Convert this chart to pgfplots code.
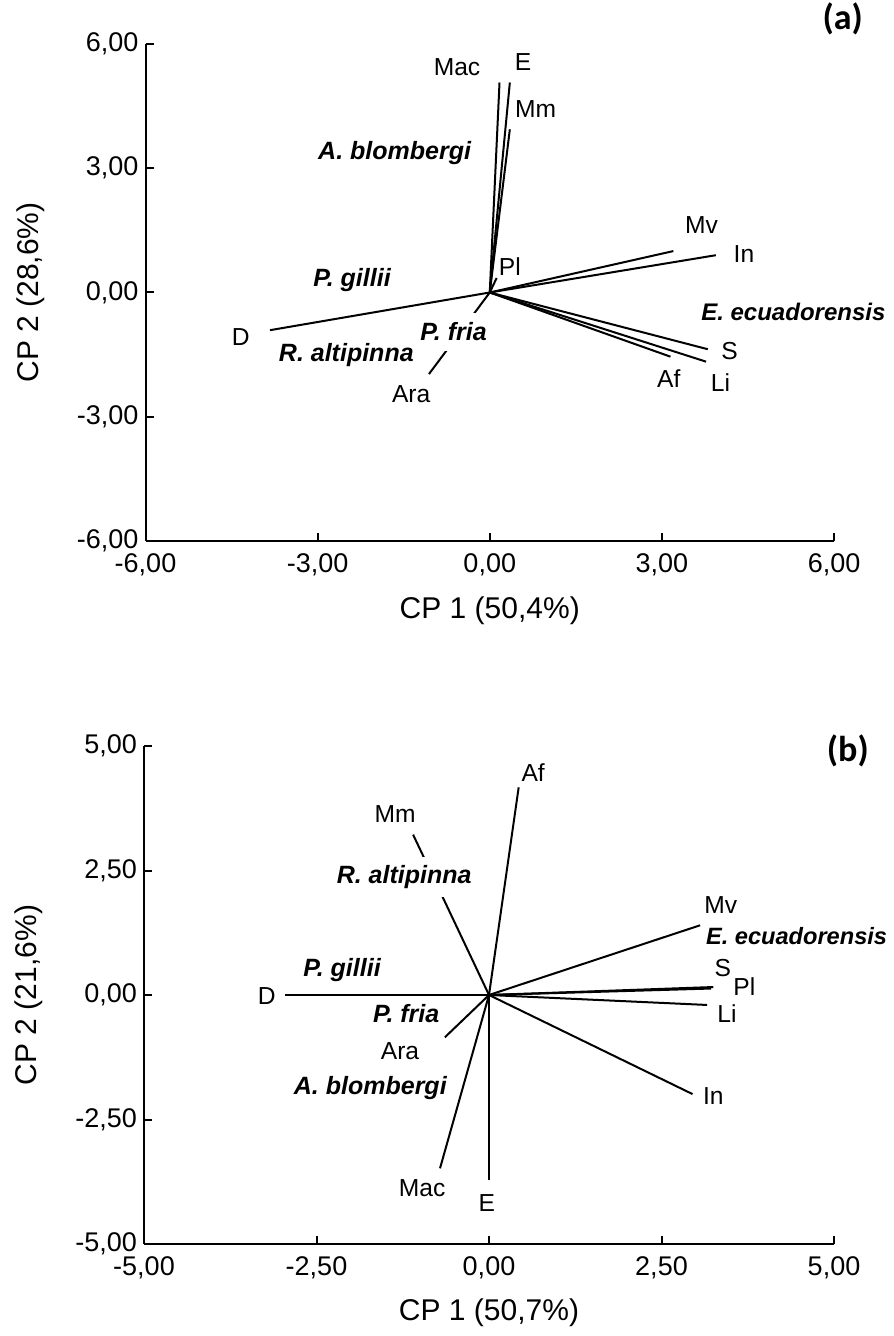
\documentclass[border=0pt]{standalone}
\usepackage{fontspec}
\setmainfont{Liberation Sans}
\newfontfamily\calibri{Carlito}
\usepackage{pgfplots}
\pgfplotsset{compat=1.18}
\tikzset{
  vec/.style={black, line width=1pt, no marks},
  lab/.style={font=\fontsize{12.3}{14}\selectfont, inner sep=0pt},
  sp/.style={font=\fontsize{12.5}{14}\selectfont\bfseries\itshape, inner sep=0pt},
}
\pgfplotsset{
  pcastyle/.style={
    scale only axis, clip=false,
    axis x line*=bottom, axis y line*=left,
    axis line style={line width=1pt, black, -},
    every tick/.style={line width=1pt, black},
    major tick length=4pt,
    tick align=inside,
    tick label style={font=\fontsize{13.5}{15}\selectfont},
    xticklabel style={yshift=-3pt},
    label style={font=\fontsize{15}{17}\selectfont},
  }
}
\begin{document}
\begin{tikzpicture}
\path[use as bounding box] (0pt,0pt) rectangle (446.5pt,668pt);
% ---------------- panel (a)
\begin{axis}[pcastyle,
  at={(72.75pt,397.5pt)}, anchor=south west,
  width=344.25pt, height=248.5pt,
  xmin=-6, xmax=6, ymin=-6, ymax=6,
  xtick={-6,-3,0,3,6}, xticklabels={{-6,00},{-3,00},{0,00},{3,00},{6,00}},
  ytick={-6,-3,0,3,6}, yticklabels={{-6,00},{-3,00},{0,00},{3,00},{6,00}},
  xlabel={CP 1 (50,4\%)}, ylabel={CP 2 (28,6\%)},
  xlabel style={at={(axis description cs:0.5,-0.141)}, anchor=center},
  ylabel style={at={(axis description cs:-0.167,0.5)}, anchor=center},
]
\addplot[vec] coordinates {(0,0) (-3.83,-0.91)};
\addplot[vec] coordinates {(0,0) (-1.06,-1.97)};
\addplot[vec] coordinates {(0,0) (0.17,5.07)};
\addplot[vec] coordinates {(0,0) (0.35,5.07)};
\addplot[vec] coordinates {(0,0) (0.35,3.94)};
\addplot[vec] coordinates {(0,0) (0.12,0.35)};
\addplot[vec] coordinates {(0,0) (3.20,1.00)};
\addplot[vec] coordinates {(0,0) (3.94,0.90)};
\addplot[vec] coordinates {(0,0) (3.80,-1.37)};
\addplot[vec] coordinates {(0,0) (3.77,-1.67)};
\addplot[vec] coordinates {(0,0) (3.15,-1.55)};
\node[lab] at (axis cs:-0.57,5.45) {Mac};
\node[lab] at (axis cs:0.58,5.56) {E};
\node[lab] at (axis cs:0.80,4.43) {Mm};
\node[lab] at (axis cs:0.35,0.62) {Pl};
\node[lab] at (axis cs:3.69,1.63) {Mv};
\node[lab] at (axis cs:4.43,0.92) {In};
\node[lab] at (axis cs:4.18,-1.41) {S};
\node[lab] at (axis cs:4.02,-2.17) {Li};
\node[lab] at (axis cs:3.12,-2.07) {Af};
\node[lab] at (axis cs:-4.34,-1.07) {D};
\node[lab] at (axis cs:-1.37,-2.45) {Ara};
\node[sp, anchor=east] at (axis cs:-0.32,3.36) {A. blombergi};
\node[sp] at (axis cs:-2.40,0.29) {P. gillii};
\node[sp, fill=white, inner ysep=5pt, inner xsep=1pt] at (axis cs:-0.63,-0.95) {P. fria};
\node[sp] at (axis cs:-2.50,-1.51) {R. altipinna};
\node[sp, anchor=west, font=\fontsize{12}{14}\selectfont\bfseries\itshape] at (axis cs:3.68,-0.47) {E. ecuadorensis};
\node[font=\fontsize{18}{20}\selectfont\calibri\bfseries, inner sep=0pt] at (axis cs:6.15,6.6) {(a)};
\end{axis}
% ---------------- panel (b)
\begin{axis}[pcastyle,
  at={(72pt,46pt)}, anchor=south west,
  width=345pt, height=249pt,
  xmin=-5, xmax=5, ymin=-5, ymax=5,
  xtick={-5,-2.5,0,2.5,5}, xticklabels={{-5,00},{-2,50},{0,00},{2,50},{5,00}},
  ytick={-5,-2.5,0,2.5,5}, yticklabels={{-5,00},{-2,50},{0,00},{2,50},{5,00}},
  xlabel={CP 1 (50,7\%)}, ylabel={CP 2 (21,6\%)},
  xlabel style={at={(axis description cs:0.5,-0.139)}, anchor=center},
  ylabel style={at={(axis description cs:-0.167,0.5)}, anchor=center},
]
\addplot[vec] coordinates {(0,0) (-2.96,0)};
\addplot[vec] coordinates {(0,0) (-1.10,3.22)};
\addplot[vec] coordinates {(0,0) (0.43,4.17)};
\addplot[vec] coordinates {(0,0) (3.06,1.40)};
\addplot[vec] coordinates {(0,0) (3.25,0.16)};
\addplot[vec] coordinates {(0,0) (3.22,0.13)};
\addplot[vec] coordinates {(0,0) (3.16,-0.20)};
\addplot[vec] coordinates {(0,0) (2.95,-1.99)};
\addplot[vec] coordinates {(0,0) (-0.71,-3.48)};
\addplot[vec] coordinates {(0,0) (0,-3.72)};
\addplot[vec] coordinates {(0,0) (-0.64,-0.85)};
\node[lab] at (axis cs:-1.36,3.63) {Mm};
\node[lab] at (axis cs:0.64,4.46) {Af};
\node[lab] at (axis cs:3.36,1.81) {Mv};
\node[lab] at (axis cs:3.39,0.54) {S};
\node[lab] at (axis cs:3.70,0.16) {Pl};
\node[lab] at (axis cs:3.45,-0.38) {Li};
\node[lab] at (axis cs:3.25,-2.03) {In};
\node[lab] at (axis cs:-3.22,-0.02) {D};
\node[lab] at (axis cs:-1.29,-1.12) {Ara};
\node[lab] at (axis cs:-0.97,-3.88) {Mac};
\node[lab] at (axis cs:-0.03,-4.18) {E};
\node[sp, fill=white, inner ysep=4pt, inner xsep=1pt] at (axis cs:-1.23,2.37) {R. altipinna};
\node[sp] at (axis cs:-2.13,0.50) {P. gillii};
\node[sp] at (axis cs:-1.20,-0.38) {P. fria};
\node[sp] at (axis cs:-1.72,-1.87) {A. blombergi};
\node[sp, anchor=west, font=\fontsize{11.8}{14}\selectfont\bfseries\itshape] at (axis cs:3.14,1.18) {E. ecuadorensis};
\node[font=\fontsize{18}{20}\selectfont\calibri\bfseries, inner sep=0pt] at (axis cs:5.2,4.9) {(b)};
\end{axis}
\end{tikzpicture}
\end{document}
